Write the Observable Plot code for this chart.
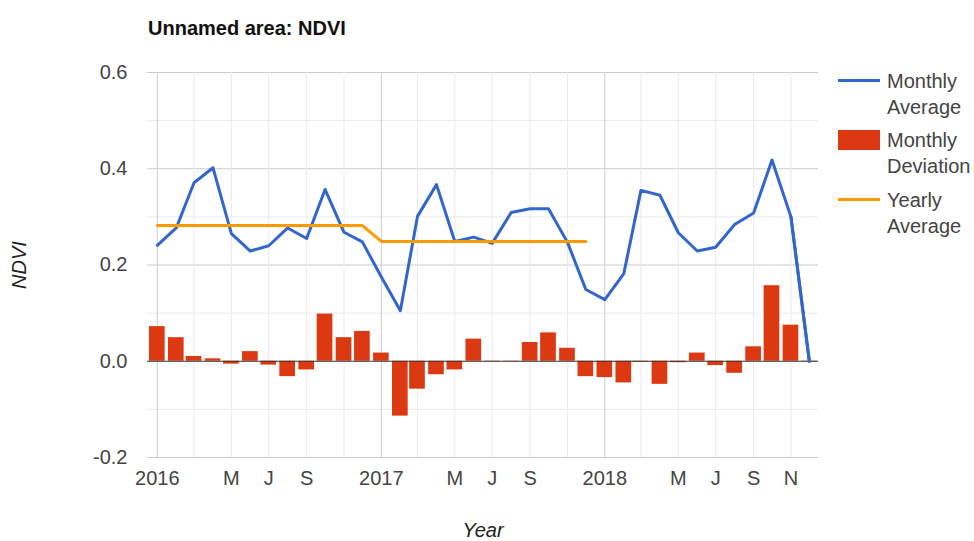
<!DOCTYPE html>
<html>
<head>
<meta charset="utf-8">
<script src="https://cdn.jsdelivr.net/npm/d3@7"></script>
<script src="https://cdn.jsdelivr.net/npm/@observablehq/plot@0.6"></script>
<style>
  html, body { margin: 0; padding: 0; background: #fff; }
  body { width: 974px; height: 541px; position: relative; overflow: hidden; font-family: "Liberation Sans", Arial, sans-serif; }
  #chart { position: absolute; left: 0; top: 0; }
  .title { position: absolute; left: 148px; top: 18px; font-size: 20px; line-height: 1; font-weight: bold; color: #111; white-space: nowrap; }
  .axis-title { position: absolute; font-size: 20px; line-height: 1; font-style: italic; color: #222; white-space: nowrap; transform: translate(-50%, -50%); }
  .legend-item { position: absolute; left: 838px; display: flex; align-items: flex-start; }
  .legend-swatch { position: relative; width: 42px; flex: none; }
  .legend-text { margin-left: 7px; font-size: 20px; line-height: 26px; color: #444; white-space: nowrap; }
</style>
</head>
<body>
<div id="chart"></div>
<div class="title">Unnamed area: NDVI</div>
<div class="axis-title" style="left:19px; top:265px; transform: translate(-50%, -50%) rotate(-90deg);">NDVI</div>
<div class="axis-title" style="left:483px; top:530px;">Year</div>
<div id="legend"></div>
<script>
// ---- Data ----
const months = [
  "2016-01","2016-02","2016-03","2016-04","2016-05","2016-06","2016-07","2016-08","2016-09","2016-10","2016-11","2016-12",
  "2017-01","2017-02","2017-03","2017-04","2017-05","2017-06","2017-07","2017-08","2017-09","2017-10","2017-11","2017-12",
  "2018-01","2018-02","2018-03","2018-04","2018-05","2018-06","2018-07","2018-08","2018-09","2018-10","2018-11","2018-12"
];
const monthlyAverage = [
  0.241, 0.277, 0.371, 0.402, 0.265, 0.229, 0.240, 0.277, 0.255, 0.357, 0.268, 0.248,
  0.175, 0.105, 0.301, 0.367, 0.249, 0.258, 0.245, 0.309, 0.317, 0.317, 0.247, 0.149,
  0.128, 0.182, 0.355, 0.345, 0.267, 0.229, 0.237, 0.284, 0.308, 0.418, 0.300, 0.000
];
const monthlyDeviation = [
  0.072, 0.049, 0.010, 0.005, -0.006, 0.020, -0.008, -0.032, -0.018, 0.098, 0.049, 0.062,
  0.017, -0.114, -0.058, -0.028, -0.018, 0.046, -0.001, -0.001, 0.039, 0.059, 0.027, -0.032,
  -0.034, -0.045, -0.002, -0.048, -0.003, 0.017, -0.009, -0.025, 0.030, 0.157, 0.075, -0.001
];
const yearlyMonths = months.slice(0, 24);
const yearlyAverage = [
  0.282, 0.282, 0.282, 0.282, 0.282, 0.282, 0.282, 0.282, 0.282, 0.282, 0.282, 0.282,
  0.249, 0.249, 0.249, 0.249, 0.249, 0.249, 0.249, 0.249, 0.249, 0.249, 0.249, 0.249
];
const xTickMonths = ["2016-01","2016-05","2016-07","2016-09","2017-01","2017-05","2017-07","2017-09","2018-01","2018-05","2018-07","2018-09","2018-11"];
const xTickLabels = ["2016","M","J","S","2017","M","J","S","2018","M","J","S","N"];
const xMajorGrid = ["2016-01","2017-01","2018-01"];
const xMinorGrid = ["2016-03","2016-05","2016-07","2016-09","2016-11","2017-03","2017-05","2017-07","2017-09","2017-11","2018-03","2018-05","2018-07","2018-09","2018-11"];
const yTicks = [-0.2, 0, 0.2, 0.4, 0.6];
const yMinorGrid = [-0.1, 0.1, 0.3, 0.5];
const yMajorGrid = [-0.2, 0.2, 0.4, 0.6];
const xDomain = ["2015-12-16", "2018-12-16"];
const yDomain = [-0.2, 0.6];

const series = [
  {name: ["Monthly", "Average"], color: "#3366cc", kind: "line"},
  {name: ["Monthly", "Deviation"], color: "#dc3912", kind: "box"},
  {name: ["Yearly", "Average"], color: "#ff9900", kind: "line"}
];

// ---- Build tables ----
const parse = s => new Date(s + (s.length === 7 ? "-01" : "") + "T00:00:00Z");
const DAY = 864e5;
const avgData = months.map((m, i) => ({date: parse(m), value: monthlyAverage[i]}));
const devData = months.map((m, i) => ({date: parse(m), value: monthlyDeviation[i]}));
const yearData = yearlyMonths.map((m, i) => ({date: parse(m), value: yearlyAverage[i]}));
const tickLabelMap = new Map(xTickMonths.map((m, i) => [+parse(m), xTickLabels[i]]));

const chart = Plot.plot({
  width: 974,
  height: 541,
  marginLeft: 147,
  marginRight: 156,
  marginTop: 72,
  marginBottom: 84,
  style: {fontFamily: "'Liberation Sans', Arial, sans-serif", fontSize: "20px", color: "#444", background: "#fff"},
  x: {type: "utc", domain: xDomain.map(parse)},
  y: {domain: yDomain},
  marks: [
    Plot.gridY(yMinorGrid, {stroke: "#ebebeb", strokeOpacity: 1}),
    Plot.gridY(yMajorGrid, {stroke: "#cccccc", strokeOpacity: 1}),
    Plot.gridX(xMinorGrid.map(parse), {stroke: "#ebebeb", strokeOpacity: 1}),
    Plot.gridX(xMajorGrid.map(parse), {stroke: "#cccccc", strokeOpacity: 1}),
    Plot.axisY(yTicks, {tickSize: 0, tickPadding: 20, tickFormat: d => d.toFixed(1), label: null}),
    Plot.axisX(xTickMonths.map(parse), {tickSize: 0, tickPadding: 13, tickFormat: d => tickLabelMap.get(+d), label: null}),
    Plot.line(avgData, {x: "date", y: "value", stroke: "#3366cc", strokeWidth: 3, strokeLinejoin: "round"}),
    Plot.rectY(devData, {
      x1: d => new Date(+d.date - 12.8 * DAY),
      x2: d => new Date(+d.date + 12.8 * DAY),
      y1: 0, y2: "value", fill: "#dc3912"
    }),
    Plot.ruleY([0], {stroke: "#333333", strokeWidth: 1}),
    Plot.line(yearData, {x: "date", y: "value", stroke: "#ff9900", strokeWidth: 3, strokeLinejoin: "round"}),
    Plot.line(avgData.slice(-2), {x: "date", y: "value", stroke: "#3366cc", strokeWidth: 3})
  ]
});
document.getElementById("chart").appendChild(chart);

// ---- Legend ----
const legend = document.getElementById("legend");
const legendY = [81, 140.5, 200];
series.forEach((s, i) => {
  const item = document.createElement("div");
  item.className = "legend-item";
  item.style.top = (legendY[i] - 13.2) + "px";
  const sw = document.createElement("div");
  sw.className = "legend-swatch";
  const h = s.kind === "box" ? 20 : 3;
  sw.style.height = "26px";
  const inner = document.createElement("div");
  inner.style.position = "absolute";
  inner.style.left = "0";
  inner.style.width = "42px";
  inner.style.height = h + "px";
  inner.style.top = (13.2 - h / 2) + "px";
  inner.style.background = s.color;
  sw.appendChild(inner);
  const tx = document.createElement("div");
  tx.className = "legend-text";
  tx.innerHTML = s.name.join("<br>");
  item.appendChild(sw);
  item.appendChild(tx);
  legend.appendChild(item);
});
</script>
</body>
</html>
